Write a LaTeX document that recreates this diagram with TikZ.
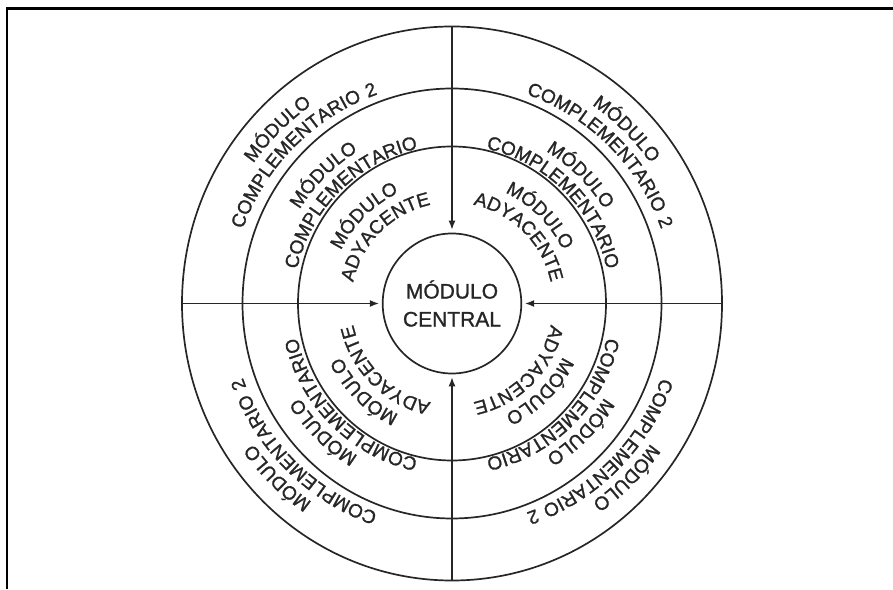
\documentclass[tikz,border=0pt]{standalone}
\usepackage{fontspec}
\setmainfont[FakeBold=1.2]{Liberation Sans}
\usetikzlibrary{decorations.text,arrows.meta,shapes.geometric,calc}
\newfontfamily\ringfont[FakeBold=1.2,LetterSpace=6]{Liberation Sans}
\definecolor{ink}{HTML}{262626}
\newcommand\rfont{\ringfont\fontsize{19pt}{20pt}\selectfont\color{ink}}
\begin{document}
\begin{tikzpicture}[x=1pt,y=1pt,
  ring/.style={draw=ink,line width=1.7pt},
  spoke/.style={draw=ink,line width=1.3pt},
  feed/.style={spoke,-{Latex[length=9pt,width=7pt]},shorten >=3pt},
  arctext/.style={decorate,decoration={text along path,text align=center,text={|\rfont|#1}}}
]
\useasboundingbox (0,0) rectangle (893,589);
% frame
\draw[line width=2.5pt,black] (7,0) -- (7,580.5) -- (893,580.5);
\coordinate (C) at (452,285.5);
% rings
\draw[ring] (C) ellipse[x radius=270, y radius=277];
\draw[ring] (C) ellipse[x radius=209.5, y radius=215];
\draw[ring] (C) ellipse[x radius=154, y radius=157];
% central module
\node[ellipse, draw=ink, line width=1.7pt, minimum width=136pt, minimum height=140pt,
      inner sep=0pt, align=center, text=ink, font=\fontsize{21pt}{28pt}\selectfont]
      (c) at (C) {MÓDULO\\CENTRAL};
% spokes
\coordinate (n) at (452,562.5);
\coordinate (s) at (452,8.5);
\coordinate (w) at (182,285.5);
\coordinate (e) at (721.5,285.5);
\draw[feed] (n) -- (c);
\draw[feed] (s) -- (c);
\draw[feed] (w) -- (c);
\draw[feed] (e) -- (c);
% curved labels
\foreach \a in {135,45,-45,-135}{
  \path[arctext={MÓDULO}] ($(C)+(\a+60:243)$) arc[start angle=\a+60, end angle=\a-60, radius=243];
  \path[arctext={COMPLEMENTARIO 2}] ($(C)+(\a+60:222)$) arc[start angle=\a+60, end angle=\a-60, radius=222];
  \path[arctext={MÓDULO}] ($(C)+(\a+60:179)$) arc[start angle=\a+60, end angle=\a-60, radius=179];
  \path[arctext={COMPLEMENTARIO}] ($(C)+(\a+60:158.5)$) arc[start angle=\a+60, end angle=\a-60, radius=158.5];
  \path[arctext={MÓDULO}] ($(C)+(\a+60:123)$) arc[start angle=\a+60, end angle=\a-60, radius=123];
  \path[arctext={ADYACENTE}] ($(C)+(\a+60:101)$) arc[start angle=\a+60, end angle=\a-60, radius=101];
}
\end{tikzpicture}
\end{document}
